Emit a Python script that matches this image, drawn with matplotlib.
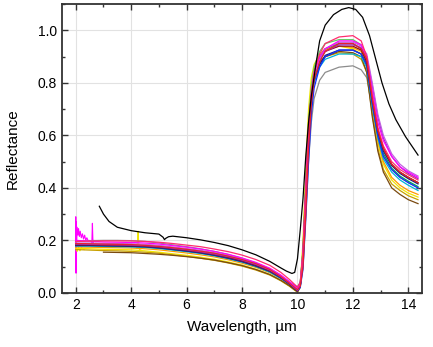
import numpy as np
import matplotlib
matplotlib.use("Agg")
import matplotlib.pyplot as plt
from matplotlib.ticker import MultipleLocator

plt.rcParams['font.family'] = ['Liberation Sans', 'DejaVu Sans']

nan = np.nan

# shared wavelength grid (um)
wl = [2.0, 2.5, 3.0, 3.5, 4.0, 4.5, 5.0, 5.5, 6.0, 6.5, 7.0, 7.5, 8.0, 8.5, 9.0,
      9.4, 9.7, 9.9, 10.0, 10.1,
      10.2, 10.3, 10.4, 10.5, 10.6, 10.8,
      11.0, 11.5, 12.0, 12.3,
      12.5, 12.7, 12.9, 13.1, 13.4, 13.7, 14.0, 14.35]

# reflectance of each sample on the grid above
red = [0.188, 0.187, 0.186, 0.185, 0.184, 0.181, 0.177, 0.172, 0.166, 0.159, 0.151, 0.140, 0.127, 0.111, 0.089,
       0.062, 0.038, 0.020, 0.012, 0.025,
       0.10, 0.30, 0.55, 0.72, 0.81, 0.88,
       0.92, 0.95, 0.95, 0.93,
       0.89, 0.74, 0.62, 0.55, 0.49, 0.46, 0.44, 0.42]
crimson = [0.196, 0.197, 0.198, 0.198, 0.198, 0.196, 0.193, 0.188, 0.182, 0.176, 0.167, 0.157, 0.144, 0.127, 0.105,
           0.078, 0.052, 0.032, 0.022, 0.040,
           0.16, 0.40, 0.62, 0.76, 0.84, 0.91,
           0.95, 0.975, 0.98, 0.96,
           0.90, 0.75, 0.63, 0.56, 0.50, 0.47, 0.45, 0.43]
magenta = [0.200, 0.197, 0.194, 0.193, 0.192, 0.190, 0.186, 0.180, 0.174, 0.167, 0.158, 0.147, 0.133, 0.116, 0.094,
           0.068, 0.044, 0.026, 0.016, 0.035,
           0.15, 0.39, 0.62, 0.76, 0.84, 0.90,
           0.93, 0.96, 0.96, 0.945,
           0.90, 0.77, 0.65, 0.58, 0.52, 0.48, 0.46, 0.44]
violet = [0.186, 0.185, 0.184, 0.183, 0.182, 0.180, 0.176, 0.170, 0.164, 0.157, 0.148, 0.138, 0.125, 0.108, 0.087,
          0.062, 0.038, 0.019, 0.010, 0.030,
          0.13, 0.36, 0.60, 0.75, 0.83, 0.89,
          0.92, 0.945, 0.945, 0.935,
          0.90, 0.79, 0.67, 0.59, 0.52, 0.48, 0.455, 0.435]
lilac = [0.190, 0.190, 0.189, 0.188, 0.187, 0.185, 0.181, 0.175, 0.169, 0.162, 0.153, 0.142, 0.129, 0.112, 0.090,
         0.064, 0.040, 0.021, 0.012, 0.030,
         0.14, 0.37, 0.60, 0.75, 0.83, 0.89,
         0.93, 0.955, 0.955, 0.94,
         0.91, 0.80, 0.68, 0.60, 0.53, 0.49, 0.465, 0.445]
blue = [0.184, 0.184, 0.183, 0.182, 0.181, 0.178, 0.174, 0.168, 0.162, 0.155, 0.146, 0.135, 0.122, 0.105, 0.084,
        0.058, 0.035, 0.017, 0.008, 0.020,
        0.09, 0.28, 0.50, 0.68, 0.78, 0.86,
        0.90, 0.925, 0.925, 0.91,
        0.87, 0.72, 0.60, 0.52, 0.47, 0.44, 0.42, 0.40]
navy = [0.180, 0.180, 0.179, 0.178, 0.177, 0.175, 0.171, 0.165, 0.159, 0.152, 0.143, 0.132, 0.119, 0.102, 0.082,
        0.057, 0.034, 0.016, 0.007, 0.025,
        0.13, 0.36, 0.58, 0.73, 0.81, 0.87,
        0.905, 0.925, 0.925, 0.91,
        0.87, 0.73, 0.61, 0.54, 0.485, 0.455, 0.435, 0.415]
green = [0.182, 0.182, 0.181, 0.180, 0.179, 0.177, 0.173, 0.167, 0.161, 0.154, 0.145, 0.134, 0.121, 0.104, 0.083,
         0.058, 0.040, 0.028, 0.022, 0.040,
         0.16, 0.40, 0.62, 0.76, 0.84, 0.90,
         0.93, 0.95, 0.95, 0.93,
         0.88, 0.72, 0.60, 0.53, 0.475, 0.445, 0.425, 0.405]
cyan = [0.178, 0.178, 0.177, 0.176, 0.175, 0.173, 0.169, 0.163, 0.157, 0.150, 0.141, 0.130, 0.117, 0.100, 0.079,
        0.055, 0.035, 0.022, 0.014, 0.030,
        0.12, 0.34, 0.56, 0.71, 0.80, 0.86,
        0.89, 0.91, 0.91, 0.90,
        0.86, 0.71, 0.59, 0.51, 0.46, 0.43, 0.41, 0.39]
gray = [0.196, 0.199, 0.200, 0.200, 0.199, 0.196, 0.190, 0.183, 0.176, 0.168, 0.158, 0.146, 0.132, 0.114, 0.092,
        0.066, 0.042, 0.023, 0.013, 0.025,
        0.10, 0.30, 0.50, 0.65, 0.74, 0.81,
        0.84, 0.86, 0.865, 0.85,
        0.82, 0.70, 0.59, 0.52, 0.47, 0.44, 0.42, 0.40]
yellow = [0.170, 0.168, 0.166, 0.165, 0.164, 0.160, 0.155, 0.149, 0.143, 0.136, 0.128, 0.118, 0.106, 0.090, 0.070,
          0.048, 0.028, 0.012, 0.004, 0.030,
          0.20, 0.48, 0.70, 0.82, 0.87, 0.91,
          0.93, 0.94, 0.93, 0.91,
          0.86, 0.70, 0.57, 0.49, 0.43, 0.40, 0.38, 0.365]
gold = [0.165, 0.163, 0.161, 0.160, 0.158, 0.155, 0.151, 0.145, 0.139, 0.132, 0.124, 0.114, 0.102, 0.087, 0.068,
        0.046, 0.026, 0.010, 0.003, 0.020,
        0.14, 0.38, 0.60, 0.75, 0.82, 0.87,
        0.90, 0.915, 0.91, 0.89,
        0.84, 0.68, 0.55, 0.47, 0.415, 0.39, 0.37, 0.355]
orange = [0.175, 0.174, 0.173, 0.172, 0.171, 0.168, 0.164, 0.158, 0.152, 0.145, 0.137, 0.126, 0.113, 0.097, 0.077,
          0.054, 0.032, 0.015, 0.006, 0.030,
          0.16, 0.42, 0.64, 0.78, 0.85, 0.90,
          0.925, 0.94, 0.935, 0.92,
          0.86, 0.70, 0.58, 0.50, 0.44, 0.41, 0.39, 0.375]
brown = [nan, nan, 0.155, 0.154, 0.153, 0.150, 0.147, 0.143, 0.138, 0.132, 0.125, 0.115, 0.104, 0.089, 0.070,
         0.048, 0.028, 0.012, 0.004, 0.025,
         0.15, 0.40, 0.62, 0.77, 0.84, 0.88,
         0.90, 0.92, 0.915, 0.90,
         0.84, 0.67, 0.54, 0.46, 0.40, 0.375, 0.355, 0.34]
maroon = [0.183, 0.183, 0.182, 0.181, 0.180, 0.178, 0.174, 0.168, 0.162, 0.155, 0.146, 0.135, 0.122, 0.105, 0.084,
          0.060, 0.036, 0.017, 0.008, 0.030,
          0.14, 0.38, 0.60, 0.75, 0.83, 0.89,
          0.92, 0.94, 0.94, 0.925,
          0.88, 0.74, 0.62, 0.55, 0.49, 0.46, 0.44, 0.42]
lightgreen = [0.186, 0.186, 0.185, 0.184, 0.183, 0.181, 0.177, 0.171, 0.165, 0.158, 0.149, 0.138, 0.125, 0.108, 0.087,
              0.062, 0.040, 0.024, 0.016, 0.035,
              0.17, 0.43, 0.65, 0.79, 0.86, 0.92,
              0.95, 0.965, 0.965, 0.945,
              0.89, 0.74, 0.62, 0.55, 0.49, 0.46, 0.44, 0.42]

# noisy short-wave parts
magenta_noise_wl = [1.99, 2.0, 2.01, 2.02, 2.03, 2.05, 2.08, 2.1, 2.13, 2.16, 2.2, 2.24, 2.28, 2.32,
                    2.36, 2.4, 2.45, 2.5, 2.55, 2.58, 2.6, 2.62, 2.65, 2.7, 2.8]
magenta_noise = [0.19, 0.29, 0.075, 0.27, 0.20, 0.25, 0.22, 0.245, 0.215, 0.235, 0.21, 0.225, 0.205, 0.22,
                 0.20, 0.21, 0.198, 0.20, 0.195, 0.19, 0.265, 0.19, 0.20, 0.195, 0.196]
yellow_noise_wl = [2.0, 2.05, 2.1, 2.15, 2.2, 2.3, 4.15, 4.2, 4.23, 4.25, 4.27, 4.3, 4.35]
yellow_noise = [0.17, 0.158, 0.175, 0.16, 0.172, 0.165, nan, 0.17, 0.2, 0.235, 0.19, 0.165, 0.163]

# black sample has its own sampling
black_wl = [2.85, 3.0, 3.2, 3.5, 4.0, 4.5, 5.0, 5.15, 5.2, 5.25, 5.35, 5.5, 6.0, 6.5, 7.0, 7.5, 8.0, 8.5, 9.0,
            9.4, 9.6, 9.8, 9.9, 10.0, 10.1, 10.2, 10.3, 10.4, 10.5, 10.65, 10.8, 11.0, 11.3, 11.6,
            11.85, 12.1, 12.35, 12.6, 12.8, 13.05, 13.3, 13.55, 13.9, 14.35]
black = [0.33, 0.30, 0.272, 0.25, 0.237, 0.229, 0.224, 0.212, 0.203, 0.208, 0.214, 0.216, 0.21, 0.202, 0.192,
         0.18, 0.164, 0.145, 0.12, 0.095, 0.083, 0.074, 0.078, 0.13, 0.24, 0.36, 0.52, 0.65, 0.75, 0.86,
         0.96, 1.02, 1.06, 1.08, 1.087, 1.08, 1.05, 0.98, 0.90, 0.80, 0.72, 0.66, 0.595, 0.525]

series = [
    (gray, '#8c8c8c'),
    (yellow, '#f2e600'),
    (gold, '#c8a000'),
    (orange, '#ff9a00'),
    (brown, '#7a4a10'),
    (cyan, '#00b4d8'),
    (green, '#00a651'),
    (lightgreen, '#66cc66'),
    (navy, '#1a237e'),
    (blue, '#1030ff'),
    (maroon, '#8b0a1a'),
    (violet, '#9932cc'),
    (lilac, '#c060e0'),
    (magenta, '#ff00ff'),
    (crimson, '#ff2d6e'),
    (red, '#e8202a'),
]

fig = plt.figure(figsize=(4.33, 3.47), dpi=100)
ax = fig.add_axes([0.143, 0.156, 0.832, 0.832])

ax.plot(magenta_noise_wl, magenta_noise, color='#ff00ff', lw=0.8)
ax.plot(yellow_noise_wl, yellow_noise, color='#f2e600', lw=0.8)
for vals, c in series:
    ax.plot(wl, vals, color=c, lw=0.9)
ax.plot(black_wl, black, color='black', lw=0.9)

ax.set_xlim(1.5, 14.5)
ax.set_ylim(0, 1.1)
ax.xaxis.set_major_locator(MultipleLocator(2))
ax.xaxis.set_minor_locator(MultipleLocator(1))
ax.yaxis.set_major_locator(MultipleLocator(0.2))
ax.yaxis.set_minor_locator(MultipleLocator(0.1))
ax.grid(True, which='major', color='#e2e2e2', lw=0.8)
ax.set_axisbelow(True)

ax.tick_params(which='both', direction='in', top=True, right=True, labelsize=10, color='#333333')
ax.tick_params(which='major', length=4, width=1)
ax.tick_params(which='minor', length=2.5, width=1)
for s in ax.spines.values():
    s.set_linewidth(1.3)
    s.set_color('#333333')

ax.set_xlabel('Wavelength, µm', fontsize=11, labelpad=6)
ax.set_ylabel('Reflectance', fontsize=11, labelpad=13)

fig.savefig('out.png', dpi=100)
